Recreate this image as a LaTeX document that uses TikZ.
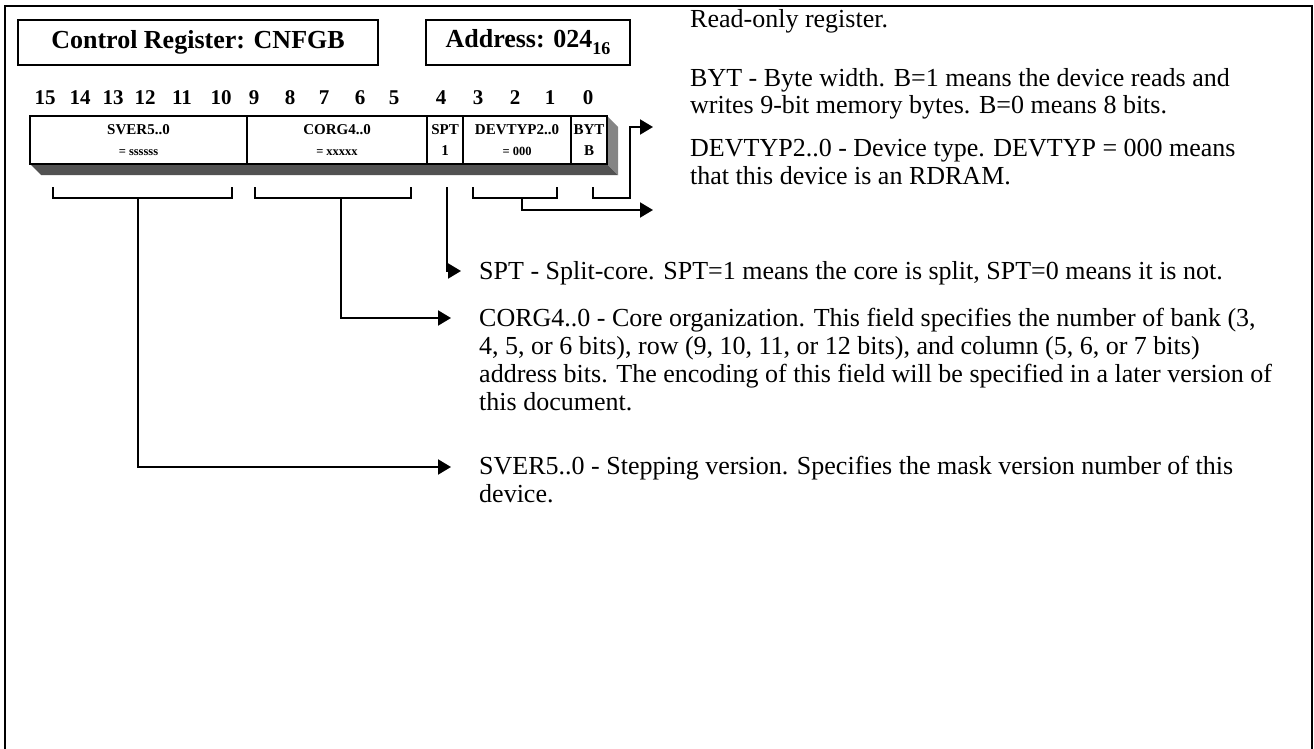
\documentclass[tikz,border=0pt]{standalone}
\usepackage{fontspec}
\setmainfont{Liberation Serif}
\usetikzlibrary{arrows.meta}
\begin{document}
\begin{tikzpicture}[x=1pt,y=-1pt,
  outer/.style={line width=2.5pt},
  titlebox/.style={draw, line width=2pt, inner sep=0pt, minimum height=45pt, anchor=north west, font=\bfseries\fontsize{26}{30}\selectfont},
  cell/.style={draw, line width=2pt, fill=white, inner sep=0pt, minimum height=48pt, anchor=north west, align=center, font=\bfseries\fontsize{15}{17}\selectfont},
  bitno/.style={font=\bfseries\fontsize{21}{24}\selectfont, inner sep=0pt},
  desc/.style={anchor=base west, align=left, inner sep=0pt, font=\fontsize{26}{28}\selectfont},
  brk/.style={line width=2pt},
  conn/.style={line width=2pt, -{Triangle[length=13pt,width=15pt]}},
]
\useasboundingbox (0,0) rectangle (1314,749);
% outer frame (open at the bottom)
\draw[outer] (5,749) -- (5,6) -- (1312,6) -- (1312,749);

% title boxes
\node[titlebox, minimum width=360pt] (title) at (17,19) {Control Register: CNFGB};
\node[titlebox, minimum width=204pt] (addr) at (425,19) {Address: 024\raisebox{-7pt}{\fontsize{18}{18}\selectfont 16}};

% bit numbers
\foreach \b/\x in {15/45,14/80,13/113,12/145,11/182,10/221,9/254,8/290,7/324,6/360,5/394,4/441,3/478,2/515,1/550,0/588}
  \node[bitno] (bit\b) at (\x,98) {\b};

% 3D shadow of the register bar
\fill[black!68] (29,163) -- (606,163) -- (618,175) -- (41,175) -- cycle;
\fill[black!48] (606,115) -- (618,127) -- (618,175) -- (606,163) -- cycle;

% register cells
\node[cell, minimum width=217pt] (sver) at (29,115) {SVER5..0\\[4pt]{\fontsize{12.5}{14}\selectfont = ssssss}};
\node[cell, minimum width=180pt] (corg) at (246,115) {CORG4..0\\[4pt]{\fontsize{12.5}{14}\selectfont = xxxxx}};
\node[cell, minimum width=36pt] (spt) at (426,115) {SPT\\[4pt]1};
\node[cell, minimum width=108pt] (dev) at (462,115) {DEVTYP2..0\\[4pt]{\fontsize{12.5}{14}\selectfont = 000}};
\node[cell, minimum width=36pt] (byt) at (570,115) {BYT\\[4pt]B};

% brackets
\draw[brk] (53,187) -- (53,198) -- (232,198) -- (232,187);
\draw[brk] (255,187) -- (255,198) -- (411,198) -- (411,187);
\draw[brk] (473,187) -- (473,198) -- (557,198) -- (557,187);
\coordinate (sverS) at (138,198);
\coordinate (corgS) at (341,198);
\coordinate (sptS) at (447,187);
\coordinate (devS) at (522,198);
\coordinate (bytS) at (593,187);
\coordinate (bytK) at (630,198);

% descriptions
\node[desc] (ro) at (690,28) {Read-only register.};
\node[desc] (bytT) at (690,114) {BYT - Byte width. B=1 means the device reads and\\writes 9-bit memory bytes. B=0 means 8 bits.};
\node[desc] (devT) at (690,184) {DEVTYP2..0 - Device type. DEVTYP = 000 means\\that this device is an RDRAM.};
\node[desc] (sptT) at (479,279) {SPT - Split-core. SPT=1 means the core is split, SPT=0 means it is not.};
\node[desc] (corgT) at (479,410) {CORG4..0 - Core organization. This field specifies the number of bank (3,\\4, 5, or 6 bits), row (9, 10, 11, or 12 bits), and column (5, 6, or 7 bits)\\address bits. The encoding of this field will be specified in a later version of\\this document.};
\node[desc] (sverT) at (479,502) {SVER5..0 - Stepping version. Specifies the mask version number of this\\device.};

\coordinate (bytE) at (653,127);
\coordinate (devE) at (653,210);
\coordinate (sptE) at (461,271);
\coordinate (corgE) at (451,318);
\coordinate (sverE) at (451,467);

% connectors
\draw[conn] (bytS) |- (bytK) |- (bytE);
\draw[conn] (devS) |- (devE);
\draw[conn] (sptS) |- (sptE);
\draw[conn] (corgS) |- (corgE);
\draw[conn] (sverS) |- (sverE);
\end{tikzpicture}
\end{document}
